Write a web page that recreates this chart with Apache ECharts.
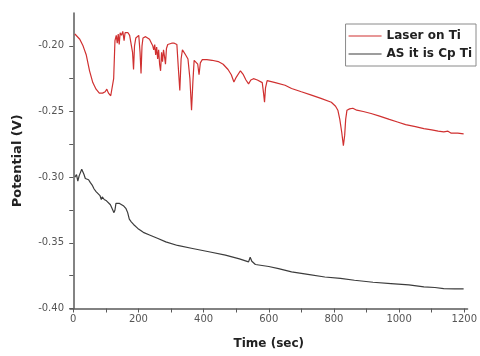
<!DOCTYPE html>
<html>
<head>
<meta charset="utf-8">
<script src="https://cdn.jsdelivr.net/npm/echarts@6/dist/echarts.min.js"></script>
<style>html,body{margin:0;padding:0;background:#fff}#c{width:480px;height:356px}</style>
</head>
<body>
<div id="c"></div>
<script>
var seriesNames = ['Laser on Ti', 'AS it is Cp Ti'];
var xTickValues = [0,100,200,300,400,500,600,700,800,900,1000,1100,1200];
var xLabelValues = [0,200,400,600,800,1000,1200];
var yTickValues = [-0.4,-0.375,-0.35,-0.325,-0.3,-0.275,-0.25,-0.225,-0.2];
var yLabelValues = [-0.4,-0.35,-0.3,-0.25,-0.2];

var laserData = [[5,-0.191],[10,-0.192],[20,-0.195],[30,-0.200],[40,-0.207],[50,-0.219],[60,-0.228],[70,-0.233],[80,-0.236],[90,-0.236],[98,-0.235],[103,-0.233],[108,-0.236],[115,-0.238],[120,-0.239],[124,-0.225],[128,-0.196],[132,-0.192],[135,-0.198],[138,-0.191],[141,-0.199],[144,-0.190],[148,-0.192],[152,-0.189],[156,-0.196],[159,-0.190],[163,-0.189],[168,-0.190],[173,-0.192],[178,-0.191],[182,-0.205],[185,-0.218],[188,-0.200],[192,-0.194],[197,-0.193],[201,-0.192],[205,-0.205],[208,-0.221],[211,-0.200],[214,-0.194],[218,-0.195],[222,-0.193],[228,-0.193],[234,-0.195],[240,-0.198],[244,-0.200],[247,-0.203],[250,-0.199],[253,-0.207],[256,-0.201],[259,-0.210],[262,-0.203],[265,-0.214],[268,-0.219],[271,-0.205],[274,-0.212],[277,-0.203],[280,-0.208],[283,-0.214],[286,-0.202],[290,-0.199],[295,-0.198],[302,-0.198],[310,-0.198],[318,-0.199],[322,-0.215],[327,-0.234],[331,-0.210],[335,-0.203],[340,-0.205],[345,-0.207],[352,-0.210],[358,-0.225],[363,-0.249],[367,-0.228],[371,-0.211],[376,-0.212],[382,-0.214],[386,-0.222],[390,-0.213],[396,-0.2105],[410,-0.2105],[426,-0.211],[445,-0.212],[460,-0.214],[475,-0.218],[485,-0.222],[493,-0.2275],[500,-0.224],[513,-0.219],[522,-0.222],[530,-0.226],[538,-0.229],[545,-0.226],[553,-0.225],[565,-0.226],[580,-0.228],[584,-0.236],[587,-0.243],[590,-0.232],[595,-0.2265],[620,-0.228],[650,-0.230],[670,-0.2325],[700,-0.235],[731,-0.2375],[760,-0.240],[792,-0.243],[805,-0.246],[812,-0.249],[818,-0.256],[824,-0.266],[829,-0.276],[833,-0.268],[836,-0.256],[840,-0.249],[848,-0.248],[858,-0.2475],[870,-0.249],[890,-0.250],[914,-0.2515],[940,-0.2535],[970,-0.256],[995,-0.258],[1020,-0.260],[1050,-0.2615],[1076,-0.263],[1100,-0.264],[1120,-0.265],[1137,-0.2655],[1150,-0.265],[1160,-0.2665],[1180,-0.2665],[1198,-0.267]];

var cpData = [[5,-0.300],[10,-0.298],[14,-0.303],[18,-0.299],[22,-0.300],[26,-0.294],[29,-0.2925],[33,-0.298],[37,-0.301],[42,-0.300],[47,-0.302],[52,-0.304],[58,-0.306],[64,-0.309],[70,-0.311],[76,-0.312],[82,-0.314],[86,-0.317],[89,-0.315],[95,-0.317],[102,-0.318],[108,-0.319],[114,-0.321],[120,-0.322],[125,-0.327],[128,-0.325],[131,-0.320],[136,-0.320],[142,-0.320],[148,-0.321],[155,-0.322],[162,-0.324],[167,-0.327],[172,-0.332],[178,-0.334],[185,-0.336],[198,-0.339],[215,-0.342],[234,-0.344],[260,-0.3467],[284,-0.3493],[320,-0.352],[366,-0.3543],[420,-0.357],[467,-0.3594],[510,-0.3622],[538,-0.3645],[543,-0.361],[548,-0.364],[559,-0.3665],[600,-0.368],[630,-0.3696],[670,-0.3721],[720,-0.374],[772,-0.376],[820,-0.377],[863,-0.3785],[920,-0.380],[975,-0.381],[1030,-0.382],[1076,-0.3836],[1110,-0.384],[1137,-0.3848],[1170,-0.385],[1198,-0.385]];

var chart = echarts.init(document.getElementById('c'), null, {renderer: 'canvas'});
var axisColor = '#5a5a5a';
var font = 'DejaVu Sans';
chart.setOption({
  animation: false,
  backgroundColor: '#fff',
  grid: {left: 70, right: 10, top: 13, bottom: 47.5, containLabel: false},
  legend: {
    data: seriesNames.map(function (n) { return {name: n, icon: 'rect'}; }),
    orient: 'vertical',
    right: 4, top: 24,
    padding: [5, 4, 5, 3],
    itemGap: 4,
    itemWidth: 33, itemHeight: 1.2,
    borderColor: '#8a8a8a', borderWidth: 1,
    textStyle: {fontFamily: font, fontWeight: 'bold', fontSize: 12, color: '#222', lineHeight: 14}
  },
  xAxis: {
    type: 'value', min: -10, max: 1210,
    name: 'Time (sec)', nameLocation: 'middle', nameGap: 29,
    nameTextStyle: {fontFamily: font, fontWeight: 'bold', fontSize: 12, color: '#222'},
    axisLine: {lineStyle: {color: axisColor, width: 1.5}},
    axisTick: {customValues: xTickValues, length: 4, lineStyle: {color: axisColor}},
    axisLabel: {customValues: xLabelValues, fontFamily: font, fontSize: 10, color: '#555', margin: 6,
      formatter: function (v) { return String(v); }},
    splitLine: {show: false}
  },
  yAxis: {
    type: 'value', min: -0.4, max: -0.175,
    name: 'Potential (V)', nameLocation: 'middle', nameGap: 46,
    nameTextStyle: {fontFamily: font, fontWeight: 'bold', fontSize: 13, color: '#222'},
    axisLine: {show: true, lineStyle: {color: axisColor, width: 1.5}},
    axisTick: {show: true, customValues: yTickValues, length: 4, lineStyle: {color: axisColor}},
    axisLabel: {customValues: yLabelValues, fontFamily: font, fontSize: 10, color: '#555', margin: 6,
      formatter: function (v) { return v.toFixed(2); }},
    splitLine: {show: false}
  },
  series: [
    {name: seriesNames[0], type: 'line', data: laserData, symbol: 'none', showSymbol: false,
      lineStyle: {color: '#d03030', width: 1.2}, itemStyle: {color: '#d03030'}},
    {name: seriesNames[1], type: 'line', data: cpData, symbol: 'none', showSymbol: false,
      lineStyle: {color: '#3c3c3c', width: 1.2}, itemStyle: {color: '#3c3c3c'}}
  ]
});
</script>
</body>
</html>
